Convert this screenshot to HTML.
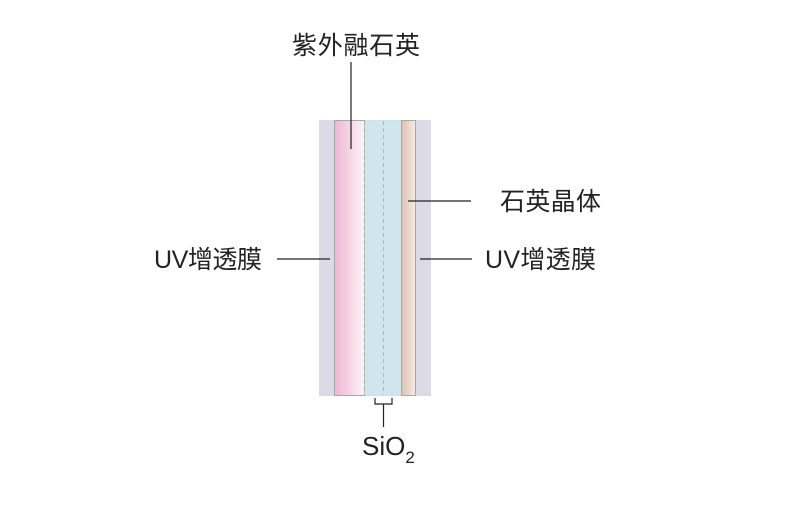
<!DOCTYPE html>
<html><head><style>
body{margin:0;width:800px;height:506px;background:#fff;font-family:"Liberation Sans","Noto Sans CJK SC",sans-serif;}
</style></head><body>
<svg width="800" height="506" xmlns="http://www.w3.org/2000/svg">
<defs>
<linearGradient id="pk" x1="0" x2="1"><stop offset="0" stop-color="#eeb6d2"/><stop offset="1" stop-color="#fdf3f8"/></linearGradient>
<linearGradient id="bg" x1="0" x2="1"><stop offset="0" stop-color="#dcc1b2"/><stop offset="1" stop-color="#f5ebe4"/></linearGradient>
</defs>
<rect x="319" y="120" width="112" height="276" fill="#dcdae6"/>
<rect x="334.5" y="120.5" width="30" height="275" fill="url(#pk)" stroke="#a8a8a8" stroke-width="1"/>
<rect x="364.5" y="120.5" width="37" height="275" fill="#cfe6ee"/>
<line x1="364.5" y1="121" x2="364.5" y2="395" stroke="#a8a8a8" stroke-dasharray="4,3"/>
<line x1="383.5" y1="121" x2="383.5" y2="395" stroke="#a8b8c0" stroke-dasharray="4,3"/>
<rect x="401.5" y="120.5" width="14" height="275" fill="url(#bg)" stroke="#a8a8a8" stroke-width="1"/>
<g stroke="#222" stroke-width="1.2" fill="none">
<line x1="351" y1="62" x2="351" y2="149"/>
<line x1="408" y1="201" x2="471" y2="201"/>
<line x1="277" y1="259" x2="330" y2="259"/>
<line x1="420" y1="259" x2="472" y2="259"/>
<polyline points="375,398 375,404 392,404 392,398"/>
<line x1="383.5" y1="404" x2="383.5" y2="427"/>
</g>
<g font-size="25" fill="#222">
<text x="292" y="54" textLength="128">紫外融石英</text>
<text x="500" y="210" textLength="101">石英晶体</text>
<text x="154" y="268" textLength="108">UV增透膜</text>
<text x="485" y="268" textLength="111">UV增透膜</text>
<text x="362" y="455" font-size="26">SiO<tspan font-size="17" dy="8">2</tspan></text>
</g>
</svg>
</body></html>
